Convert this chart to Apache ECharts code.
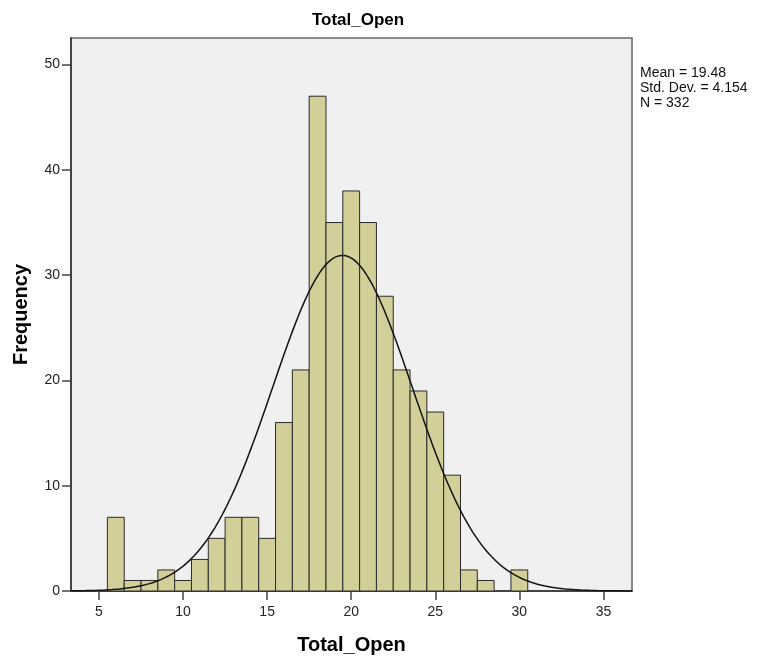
<!DOCTYPE html>
<html>
<head>
<meta charset="utf-8">
<script src="https://cdn.jsdelivr.net/npm/echarts@6/dist/echarts.min.js"></script>
<style>html,body{margin:0;padding:0;background:#fff;}#c{width:758px;height:660px;}</style>
</head>
<body>
<div id="c"></div>
<script>
// Histogram bins (centre values) and frequencies
const binCenters = [6,7,8,9,10,11,12,13,14,15,16,17,18,19,20,21,22,23,24,25,26,27,28,29,30];
const frequencies = [7,1,1,2,1,3,5,7,7,5,16,21,47,35,38,35,28,21,19,17,11,2,1,0,2];
const binWidth = 1;
// Summary statistics shown on the chart
const statMean = 19.48;
const statStdDev = 4.154;
const statN = 332;
const xTicks = [5,10,15,20,25,30,35];
const yTicks = [0,10,20,30,40,50];
const xMin = 3.335, xMax = 36.7, yMax = 52.53;

// Normal curve from the reported mean / std. dev. / N
const curve = [];
const steps = 300;
for (let i = 0; i <= steps; i++) {
  const x = xMin + (xMax - xMin) * i / steps;
  const z = (x - statMean) / statStdDev;
  const y = statN * binWidth / (statStdDev * Math.sqrt(2 * Math.PI)) * Math.exp(-0.5 * z * z);
  curve.push([x, y]);
}
const barData = binCenters.map((c, i) => [c, frequencies[i]]);

const font = 'Arial, "Liberation Sans", sans-serif';
const chart = echarts.init(document.getElementById('c'), null, {renderer: 'canvas'});
chart.setOption({
  animation: false,
  backgroundColor: '#ffffff',
  title: {
    text: 'Total_Open', left: 353, top: 7, textAlign: 'center',
    textStyle: {fontFamily: font, fontSize: 17, fontWeight: 'bold', color: '#000'}
  },
  grid: {left: 71, right: 126, top: 38, bottom: 68, show: true, backgroundColor: '#f0f0f0', borderColor: '#666', borderWidth: 1.5},
  xAxis: {
    type: 'value', min: xMin, max: xMax,
    name: 'Total_Open', nameLocation: 'middle', nameGap: 44,
    nameTextStyle: {fontFamily: font, fontSize: 20, fontWeight: 'bold', color: '#000'},
    axisLine: {show: true, lineStyle: {color: '#444', width: 2}},
    axisTick: {show: true, length: 9, customValues: xTicks, lineStyle: {color: '#444', width: 1.5}},
    axisLabel: {customValues: xTicks, fontFamily: font, fontSize: 14, color: '#222', margin: 14},
    splitLine: {show: false}
  },
  yAxis: {
    type: 'value', min: 0, max: yMax,
    name: 'Frequency', nameLocation: 'middle', nameGap: 40, nameRotate: 90,
    nameTextStyle: {fontFamily: font, fontSize: 20, fontWeight: 'bold', color: '#000'},
    axisLine: {show: true, lineStyle: {color: '#444', width: 2}},
    axisTick: {show: true, length: 9, customValues: yTicks, lineStyle: {color: '#444', width: 1.5}},
    axisLabel: {customValues: yTicks, fontFamily: font, fontSize: 14, color: '#222', margin: 11},
    splitLine: {show: false}
  },
  series: [
    {
      type: 'custom',
      data: barData,
      renderItem: function (params, api) {
        const c = api.value(0), v = api.value(1);
        if (!v) return null;
        const p1 = api.coord([c - binWidth / 2, v]);
        const p2 = api.coord([c + binWidth / 2, 0]);
        return {
          type: 'rect',
          shape: {x: p1[0], y: p1[1], width: p2[0] - p1[0], height: p2[1] - p1[1]},
          style: {fill: '#d3cf98', stroke: '#2a2a2a', lineWidth: 1}
        };
      },
      z: 2
    },
    {
      type: 'line', data: curve, showSymbol: false, smooth: false,
      lineStyle: {color: '#111', width: 1.5}, z: 3
    }
  ],
  graphic: [
    {
      type: 'text', left: 640, top: 66,
      style: {
        text: 'Mean = ' + statMean + '\nStd. Dev. = ' + statStdDev + '\nN = ' + statN,
        fontFamily: font, fontSize: 14, lineHeight: 15, fill: '#111'
      }
    }
  ]
});
</script>
</body>
</html>
